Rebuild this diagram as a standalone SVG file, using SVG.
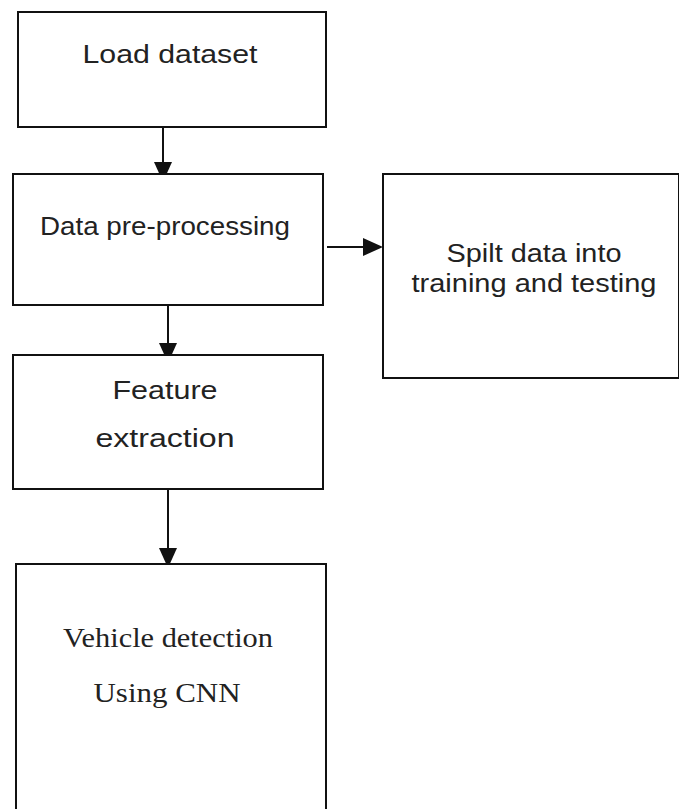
<svg xmlns="http://www.w3.org/2000/svg" width="679" height="809" viewBox="0 0 679 809">
<style>
.box{fill:#fff;stroke:#111;stroke-width:2}
.sans{font-family:"Liberation Sans",Arial,sans-serif;font-size:26px;fill:#222;text-anchor:middle}
.serif{font-family:"Liberation Serif","Times New Roman",serif;font-size:28px;fill:#222;text-anchor:middle}
.conn{stroke:#111;stroke-width:2;fill:none;marker-end:url(#ah)}
</style>
<defs>
<marker id="ah" markerUnits="userSpaceOnUse" markerWidth="20" markerHeight="18" refX="16" refY="9" orient="auto">
<path d="M0,0 L20,9 L0,18 z" fill="#111"/>
</marker>
</defs>
<rect width="679" height="809" fill="#fff"/>
<g id="connectors">
<line class="conn" x1="163" y1="127" x2="163" y2="178"/>
<line class="conn" x1="327" y1="247" x2="379" y2="247"/>
<line class="conn" x1="168" y1="305" x2="168" y2="359"/>
<line class="conn" x1="168" y1="489" x2="168" y2="564"/>
</g>
<g id="load-dataset">
<rect class="box" x="18" y="12" width="308" height="115"/>
<text class="sans" x="170" y="63" textLength="175" lengthAdjust="spacingAndGlyphs">Load dataset</text>
</g>
<g id="data-preprocessing">
<rect class="box" x="13" y="174" width="310" height="131"/>
<text class="sans" x="165" y="235" textLength="250" lengthAdjust="spacingAndGlyphs">Data pre-processing</text>
</g>
<g id="split-data">
<rect class="box" x="383" y="174" width="296" height="204"/>
<text class="sans" x="534" y="262" textLength="175" lengthAdjust="spacingAndGlyphs">Spilt data into</text>
<text class="sans" x="534" y="292" textLength="245" lengthAdjust="spacingAndGlyphs">training and testing</text>
</g>
<g id="feature-extraction">
<rect class="box" x="13" y="355" width="310" height="134"/>
<text class="sans" x="165" y="399" textLength="105" lengthAdjust="spacingAndGlyphs">Feature</text>
<text class="sans" x="165" y="447" textLength="139" lengthAdjust="spacingAndGlyphs">extraction</text>
</g>
<g id="vehicle-detection">
<rect class="box" x="16" y="564" width="310" height="250"/>
<text class="serif" x="168" y="647" textLength="210" lengthAdjust="spacingAndGlyphs">Vehicle detection</text>
<text class="serif" x="167" y="702" textLength="147" lengthAdjust="spacingAndGlyphs">Using CNN</text>
</g>
</svg>
